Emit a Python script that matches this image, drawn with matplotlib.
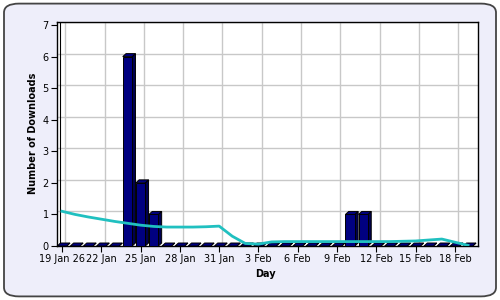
import numpy as np
import matplotlib.pyplot as plt
from matplotlib.patches import Polygon, Rectangle, FancyBboxPatch

# downloads per day, 19 Jan .. 19 Feb
counts = [0, 0, 0, 0, 0, 6, 2, 1, 0, 0, 0, 0, 0, 0, 0, 0,
          0, 0, 0, 0, 0, 0, 1, 1, 0, 0, 0, 0, 0, 0, 0, 0]
# trend line
trend = [1.10, 1.00, 0.92, 0.85, 0.78, 0.72, 0.66, 0.62, 0.60, 0.60, 0.60,
         0.61, 0.63, 0.31, 0.08, 0.06, 0.13, 0.14, 0.14, 0.14, 0.14, 0.14,
         0.14, 0.14, 0.14, 0.14, 0.15, 0.16, 0.19, 0.22, 0.12, 0.02]
tick_days = [0, 3, 6, 9, 12, 15, 18, 21, 24, 27, 30]
tick_labels = ["19 Jan 26", "22 Jan", "25 Jan", "28 Jan", "31 Jan", "3 Feb",
               "6 Feb", "9 Feb", "12 Feb", "15 Feb", "18 Feb"]

plt.rcParams['font.family'] = ['DejaVu Sans']

fig = plt.figure(figsize=(5, 3), dpi=100, facecolor='white')
frame = FancyBboxPatch((0.008, 0.012), 0.984, 0.976,
                       boxstyle="round,pad=0,rounding_size=0.03",
                       transform=fig.transFigure, facecolor='#EEEEFA',
                       edgecolor='#444444', linewidth=1.3, zorder=-10)
fig.add_artist(frame)

ax = fig.add_axes([0.114, 0.18, 0.842, 0.747])
ax.set_facecolor('white')
ax.set_xlim(-0.38, 31.76)
ax.set_ylim(0, 7.1)

# back wall grid (offset like the 3d chart)
dx, dy = 0.25, 0.095
for t in tick_days:
    ax.axvline(t + dx, color='#C8C8C8', lw=1, zorder=0)
for v in range(1, 8):
    ax.axhline(v + dy, color='#C8C8C8', lw=1, zorder=0)
ax.axvline(-0.38 + dx, color='black', lw=0.8, zorder=1)

# 3d bars
w = 0.72
x = np.arange(len(counts))
for xi, v in zip(x, counts):
    l, r = xi - w / 2, xi + w / 2
    side = Polygon([(r, 0), (r + dx, dy), (r + dx, v + dy), (r, v)],
                   facecolor='#000050', edgecolor='black', lw=0.7, zorder=3)
    top = Polygon([(l, v), (l + dx, v + dy), (r + dx, v + dy), (r, v)],
                  facecolor='#000080', edgecolor='black', lw=0.7, zorder=3)
    ax.add_patch(side)
    ax.add_patch(top)
    if v > 0:
        ax.add_patch(Rectangle((l, 0), w, v, facecolor='#000080',
                               edgecolor='black', lw=0.7, zorder=3))

ax.plot(x, trend, color='#20C0C0', lw=2, zorder=4)

ax.set_xticks(tick_days)
ax.set_xticklabels(tick_labels, fontsize=7)
ax.set_yticks(range(0, 8))
ax.tick_params(axis='y', labelsize=7, length=4, width=0.8, pad=2)
ax.tick_params(axis='x', length=4, width=0.8, pad=2)
for s in ax.spines.values():
    s.set_linewidth(1)
    s.set_color('black')

fig.text(0.066, 0.555, "Number of Downloads", rotation=90, ha='center',
         va='center', fontsize=7, fontweight='bold')
fig.text(0.53, 0.087, "Day", ha='center', va='center', fontsize=7,
         fontweight='bold')

fig.savefig('out.png', dpi=100, facecolor='white')
